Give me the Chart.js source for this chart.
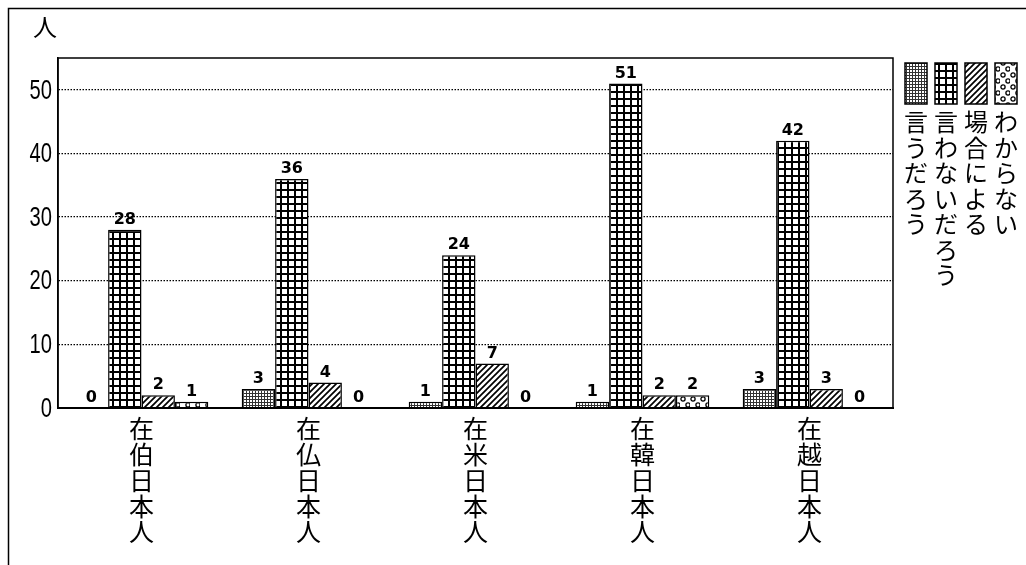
<!DOCTYPE html>
<html lang="ja">
<head>
<meta charset="utf-8">
<title>在外日本人の回答</title>
<script src="https://cdn.jsdelivr.net/npm/chart.js@4.4.1/dist/chart.umd.min.js"></script>
<style>
  html, body { margin: 0; padding: 0; background: #fff; }
  #wrap { width: 1026px; height: 565px; }
</style>
</head>
<body>
<div id="wrap"><canvas id="answerChart" width="1026" height="565"></canvas></div>
<script>
// データ
const categories = ['在伯日本人', '在仏日本人', '在米日本人', '在韓日本人', '在越日本人'];
const seriesNames = ['言うだろう', '言わないだろう', '場合による', 'わからない'];
const iuDarou     = [0, 3, 1, 1, 3];
const iwanaiDarou = [28, 36, 24, 51, 42];
const baaiNiYoru  = [2, 4, 7, 2, 3];
const wakaranai   = [1, 0, 0, 2, 0];
const yTicks = [0, 10, 20, 30, 40, 50];
const yUnit = '人';

const canvas = document.getElementById('answerChart');
const ctx = canvas.getContext('2d');

// 白黒の塗りパターン
function makePattern(w, h, draw) {
    const c = document.createElement('canvas');
    c.width = w;
    c.height = h;
    const g = c.getContext('2d');
    g.fillStyle = '#fff';
    g.fillRect(0, 0, w, h);
    g.fillStyle = '#000';
    g.strokeStyle = '#000';
    draw(g, w, h);
    return ctx.createPattern(c, 'repeat');
}

const patterns = [
    // 細かい網目
    makePattern(3, 3, function(g, w, h) {
        g.fillStyle = '#333';
        g.fillRect(0, 0, w, 1);
        g.fillRect(0, 0, 1, h);
    }),
    // 粗い格子
    makePattern(7, 7, function(g, w, h) {
        g.fillRect(0, 0, w, 2);
        g.fillRect(0, 0, 2, h);
    }),
    // 斜線
    makePattern(6, 6, function(g, w, h) {
        g.lineWidth = 1.7;
        g.beginPath();
        g.moveTo(-1, h + 1); g.lineTo(w + 1, -1);
        g.moveTo(-2, 2); g.lineTo(2, -2);
        g.moveTo(w - 2, h + 2); g.lineTo(w + 2, h - 2);
        g.stroke();
    }),
    // 小さな丸
    makePattern(10, 12, function(g, w, h) {
        g.lineWidth = 1.3;
        g.beginPath();
        g.arc(3, 3, 2.1, 0, Math.PI * 2);
        g.stroke();
        g.beginPath();
        g.arc(8, 9, 2.1, 0, Math.PI * 2);
        g.stroke();
    })
];

const seriesValues = [iuDarou, iwanaiDarou, baaiNiYoru, wakaranai];

const jpFont = '"Noto Sans CJK JP", sans-serif';

// 枠線・目盛り数字・凡例・数値ラベルを描くプラグイン
const decorPlugin = {
    id: 'decor',
    afterDatasetsDraw(chart) {
        const c = chart.ctx;
        c.save();
        c.fillStyle = '#000';
        c.font = 'bold 16px "DejaVu Sans", sans-serif';
        c.textAlign = 'center';
        c.textBaseline = 'bottom';
        chart.data.datasets.forEach(function(ds, i) {
            const meta = chart.getDatasetMeta(i);
            meta.data.forEach(function(bar, j) {
                c.fillText(String(ds.data[j]), bar.x, bar.y - 2);
            });
        });
        c.restore();
    },
    afterDraw(chart) {
        const c = chart.ctx;
        const a = chart.chartArea;
        const yScale = chart.scales.y;
        c.save();
        c.strokeStyle = '#000';

        // 外枠
        c.lineWidth = 1.5;
        c.beginPath();
        c.moveTo(8.5, 565);
        c.lineTo(8.5, 8.5);
        c.lineTo(1026, 8.5);
        c.stroke();

        // グラフ枠
        c.lineWidth = 1.5;
        c.beginPath();
        c.moveTo(a.left, a.bottom);
        c.lineTo(a.left, a.top);
        c.lineTo(a.right, a.top);
        c.lineTo(a.right, a.bottom);
        c.stroke();
        c.lineWidth = 2;
        c.beginPath();
        c.moveTo(a.left, a.bottom);
        c.lineTo(a.right, a.bottom);
        c.stroke();

        // 縦軸の目盛り数字（縦長の字形）
        c.fillStyle = '#000';
        c.font = '28px "Liberation Sans", sans-serif';
        c.textAlign = 'right';
        c.textBaseline = 'middle';
        yTicks.forEach(function(v) {
            const py = yScale.getPixelForValue(v);
            c.save();
            c.translate(a.left - 6, py);
            c.scale(0.72, 1);
            c.fillText(String(v), 0, 1);
            c.restore();
        });

        // 単位
        c.font = '24px ' + jpFont;
        c.textAlign = 'center';
        c.fillText(yUnit, 45, 27);

        // 凡例（縦書き）
        seriesNames.forEach(function(name, i) {
            const x0 = 905 + i * 30;
            c.fillStyle = patterns[i];
            c.fillRect(x0, 63, 22, 41);
            c.lineWidth = 1.5;
            c.strokeRect(x0, 63, 22, 41);
            c.fillStyle = '#000';
            c.font = '24px ' + jpFont;
            c.textAlign = 'center';
            c.textBaseline = 'top';
            name.split('').forEach(function(ch, k) {
                c.fillText(ch, x0 + 11, 110 + k * 25.5);
            });
        });
        c.restore();
    }
};

new Chart(ctx, {
    type: 'bar',
    data: {
        labels: categories.map(function(s) { return s.split(''); }),
        datasets: seriesNames.map(function(name, i) {
            return {
                label: name,
                data: seriesValues[i],
                backgroundColor: patterns[i],
                borderColor: '#000',
                borderWidth: 1.5,
                categoryPercentage: 0.8,
                barPercentage: 1.0
            };
        })
    },
    options: {
        responsive: false,
        animation: false,
        devicePixelRatio: 1,
        layout: {
            padding: { top: 58, right: 133, left: 0, bottom: 0 }
        },
        plugins: {
            legend: { display: false },
            tooltip: { enabled: false }
        },
        scales: {
            x: {
                grid: { display: false },
                border: { display: true, color: '#000', width: 2 },
                ticks: {
                    color: '#000',
                    font: { family: jpFont, size: 25, lineHeight: 1.03 },
                    maxRotation: 0,
                    autoSkip: false,
                    padding: 0
                },
                afterFit: function(scale) { scale.height = 157; }
            },
            y: {
                min: 0,
                max: 55,
                afterBuildTicks: function(scale) {
                    scale.ticks = yTicks.map(function(v) { return { value: v }; });
                },
                ticks: { display: false },
                grid: {
                    color: '#000',
                    lineWidth: 1.2,
                    drawTicks: false,
                    tickLength: 0
                },
                border: { display: true, color: '#000', width: 1.5, dash: [1.5, 1.5] },
                afterFit: function(scale) { scale.width = 58; }
            }
        }
    },
    plugins: [decorPlugin]
});
</script>
</body>
</html>
